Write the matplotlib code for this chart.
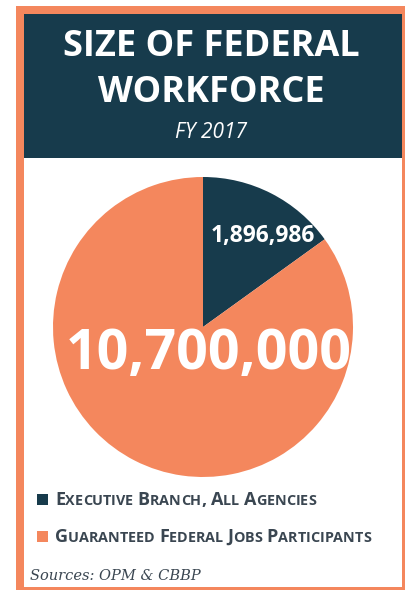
import matplotlib
matplotlib.use('Agg')
import matplotlib.pyplot as plt
from matplotlib.patches import Rectangle

# data
labels = ['Executive Branch, All Agencies', 'Guaranteed Federal Jobs Participants']
values = [1896986, 10700000]
value_text = ['1,896,986', '10,700,000']

DARK = '#173b4c'
ORANGE = '#f4875d'
TEXT = '#3a4651'

W, H = 406, 590
fig = plt.figure(figsize=(W / 100, H / 100), dpi=100)
bg = fig.add_axes([0, 0, 1, 1])
bg.set_xlim(0, W)
bg.set_ylim(H, 0)
bg.axis('off')

# frame
bg.add_patch(Rectangle((16, 6), W - 16, H - 6, facecolor=ORANGE, edgecolor='none'))
bg.add_patch(Rectangle((24, 14), 402 - 24, 587 - 14, facecolor='white', edgecolor='none'))
bg.add_patch(Rectangle((24, 14), 402 - 24, 158 - 14, facecolor=DARK, edgecolor='none'))

bg.text(211, 47, 'SIZE OF FEDERAL', fontsize=26, fontweight='bold', family='Open Sans',
        color='white', ha='center', va='center')
bg.text(211, 93, 'WORKFORCE', fontsize=26, fontweight='bold', family='Open Sans',
        color='white', ha='center', va='center')
bg.text(211, 133, 'FY 2017', fontsize=15, style='italic', family='Open Sans',
        color='white', ha='center', va='center')

# pie
cx, cy, r = 203, 327, 150
pax = fig.add_axes([(cx - r) / W, (H - cy - r) / H, 2 * r / W, 2 * r / H])
wedges, _ = pax.pie(values, colors=[DARK, ORANGE], startangle=90, counterclock=False,
                    wedgeprops=dict(linewidth=0))
pax.set_xlim(-1, 1)
pax.set_ylim(-1, 1)
pax.set_aspect('auto')
pax.axis('off')

# value labels on top of the pie (figure level text)
fig.text(263, 236, value_text[0], transform=bg.transData, fontsize=16.5, fontweight='bold',
         family='Open Sans', color='white', ha='center', va='center', zorder=5)
fig.text(209, 355, value_text[1], transform=bg.transData, fontsize=40, fontweight='bold',
         family='Open Sans', color='white', ha='center', va='center', zorder=5)

# legend with small caps
renderer = fig.canvas.get_renderer()


def small_caps(x, y, s, big=13, small=10.4):
    for word_i, word in enumerate(s.split(' ')):
        if word_i > 0:
            x += 4.5
        for ch in word:
            is_big = ch.isupper() or not ch.isalpha()
            t = bg.text(x, y, ch.upper(), fontsize=big if is_big else small,
                        fontweight='bold', family='Open Sans', color=TEXT,
                        ha='left', va='baseline')
            bb = t.get_window_extent(renderer)
            x += bb.width


for i, (lab, col) in enumerate(zip(labels, [DARK, ORANGE])):
    y = 505 + i * 37
    bg.add_patch(Rectangle((37, y - 11), 11, 11, facecolor=col, edgecolor='none'))
    small_caps(55, y, lab)

bg.text(30, 576, 'Sources: OPM & CBBP', fontsize=10.5, style='italic', family='DejaVu Serif',
        color=TEXT, ha='left', va='center')

fig.savefig('out.png', dpi=100)
